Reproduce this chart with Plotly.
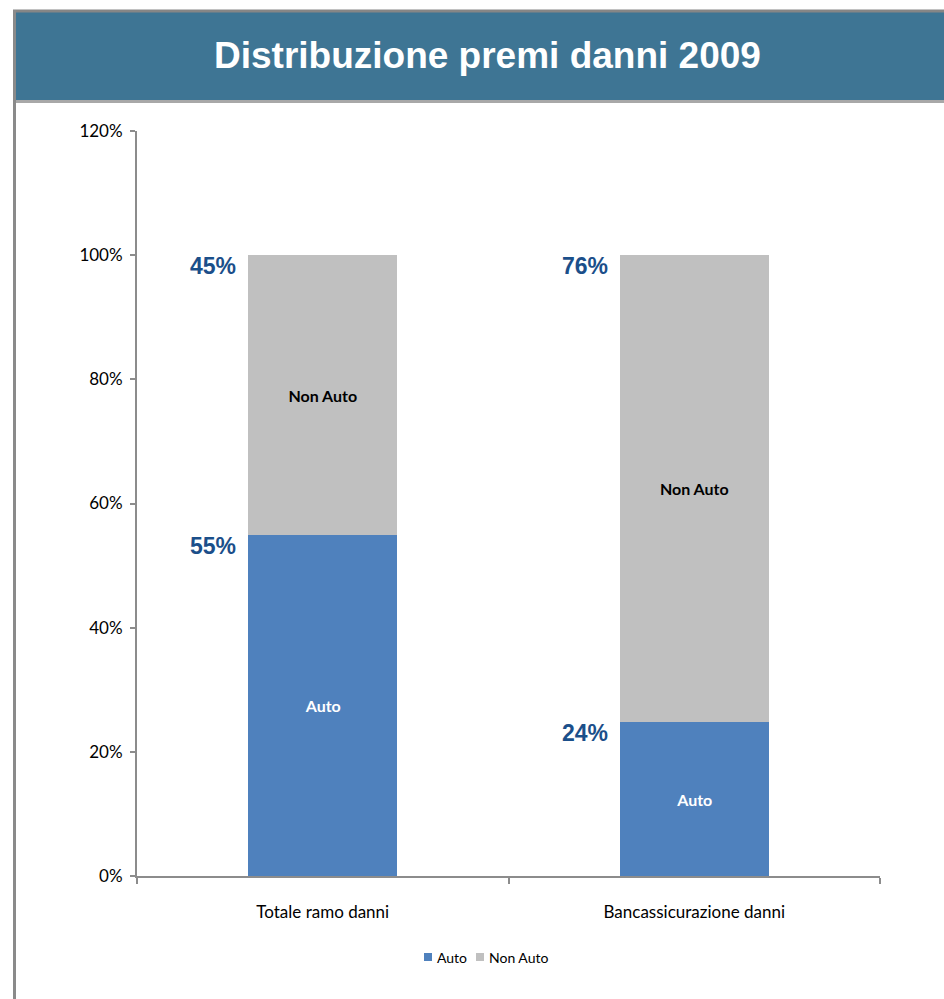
import plotly.graph_objects as go

W, H = 944, 999

categories = ["Totale ramo danni", "Bancassicurazione danni"]
auto_vals = [54.9, 24.8]
non_auto_vals = [45.1, 75.2]
auto_labels = ["55%", "24%"]
non_auto_labels = ["45%", "76%"]
series_names = ["Auto", "Non Auto"]
title_text = "Distribuzione premi danni 2009"

AUTO_COLOR = "#4F81BD"
NON_AUTO_COLOR = "#C0C0C0"
LABEL_BLUE = "#1B4F8A"
FONT = "Lato, Open Sans, sans-serif"

def px_x(x):
    return x / W

def px_y(y):
    return 1 - y / H

fig = go.Figure()
fig.add_trace(go.Bar(
    name=series_names[0], x=categories, y=auto_vals, marker=dict(color=AUTO_COLOR, line=dict(width=0)),
    width=0.4, text=[series_names[0]] * len(categories), textposition="inside",
    insidetextanchor="middle", textangle=0,
    textfont=dict(family=FONT, size=16, color="white", weight="bold"),
    hoverinfo="skip", showlegend=False,
))
fig.add_trace(go.Bar(
    name=series_names[1], x=categories, y=non_auto_vals, marker=dict(color=NON_AUTO_COLOR, line=dict(width=0)),
    width=0.4, text=[series_names[1]] * len(categories), textposition="inside",
    insidetextanchor="middle", textangle=0,
    textfont=dict(family=FONT, size=16, color="black", weight="bold"),
    hoverinfo="skip", showlegend=False,
))

annotations = []
# title
annotations.append(dict(
    text="<b>" + title_text + "</b>", x=px_x(487), y=px_y(56), xref="paper", yref="paper",
    xanchor="center", yanchor="middle", showarrow=False,
    font=dict(family="Liberation Sans, Arial, sans-serif", size=37, color="white"),
))
for i, cat in enumerate(categories):
    tops = [auto_vals[i], auto_vals[i] + non_auto_vals[i]]
    labs = [auto_labels[i], non_auto_labels[i]]
    for top, lab in zip(tops, labs):
        annotations.append(dict(
            text="<b>" + lab + "</b>", x=i - 0.2, y=top, xref="x", yref="y",
            xanchor="right", yanchor="middle", xshift=-10, yshift=-11, showarrow=False,
            font=dict(family="Liberation Sans, Arial, sans-serif", size=23, color=LABEL_BLUE),
        ))

shapes = [
    # title bar
    dict(type="rect", xref="paper", yref="paper", x0=px_x(16), x1=px_x(944),
         y0=px_y(101), y1=px_y(12), fillcolor="#3E7594", line=dict(width=0), layer="below"),
    # bottom line of title bar
    dict(type="line", xref="paper", yref="paper", x0=px_x(16), x1=px_x(944),
         y0=px_y(101.5), y1=px_y(101.5), line=dict(color="#A8A8A8", width=3)),
    # top border
    dict(type="line", xref="paper", yref="paper", x0=px_x(13), x1=px_x(944),
         y0=px_y(11), y1=px_y(11), line=dict(color="#868686", width=3)),
    # left border
    dict(type="line", xref="paper", yref="paper", x0=px_x(14.5), x1=px_x(14.5),
         y0=px_y(10), y1=px_y(999), line=dict(color="#8A8A8A", width=3)),
]

# custom compact legend (like the original)
legend_items = [(series_names[0], AUTO_COLOR, 424), (series_names[1], NON_AUTO_COLOR, 476)]
for name, color, x0 in legend_items:
    shapes.append(dict(type="rect", xref="paper", yref="paper",
                       x0=px_x(x0), x1=px_x(x0 + 8), y0=px_y(961), y1=px_y(953),
                       fillcolor=color, line=dict(width=0)))
    annotations.append(dict(text=name, x=px_x(x0 + 11), y=px_y(957.5), xref="paper", yref="paper",
                            xanchor="left", yanchor="middle", showarrow=False,
                            font=dict(family=FONT, size=14, color="black")))

fig.update_layout(
    width=W, height=H,
    margin=dict(l=0, r=0, t=0, b=0, autoexpand=False),
    paper_bgcolor="white", plot_bgcolor="white",
    barmode="stack", bargap=0.6,
    font=dict(family=FONT, size=17, color="black"),
    showlegend=False,
    annotations=annotations,
    shapes=shapes,
)
fig.update_xaxes(
    domain=[px_x(137), px_x(880)], type="category", automargin=False,
    showline=True, linecolor="#8C8C8C", linewidth=2,
    ticks="outside", tickson="boundaries", ticklen=6, tickcolor="#8C8C8C", tickwidth=2,
    showgrid=False, tickfont=dict(family=FONT, size=17, color="black"),
    ticklabelstandoff=20, fixedrange=True,
)
fig.update_yaxes(
    domain=[px_y(876), px_y(131)], range=[0, 120], dtick=20, ticksuffix="%", automargin=False,
    showline=True, linecolor="#8C8C8C", linewidth=2,
    ticks="outside", ticklen=5, tickcolor="#8C8C8C", tickwidth=2,
    showgrid=False, zeroline=False, tickfont=dict(family=FONT, size=17, color="black"),
    ticklabelstandoff=4, fixedrange=True,
)

fig.write_html("out.html")
